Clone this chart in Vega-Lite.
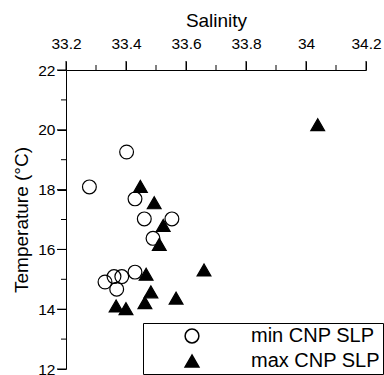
{
  "$schema": "https://vega.github.io/schema/vega-lite/v6.json",
  "autosize": "none",
  "width": 300,
  "height": 299,
  "padding": {"left": 66, "top": 70, "right": 18, "bottom": 6},
  "background": "white",
  "config": {
    "view": {"stroke": null},
    "font": "Liberation Sans",
    "axis": {"grid": false, "domainColor": "#000000", "tickColor": "#000000", "labelColor": "#000000", "titleColor": "#000000", "titleFontWeight": "normal"}
  },
  "resolve": {"axis": {"x": "independent", "y": "independent"}},
  "datasets": {
    "pts": [
      {"salinity": 33.402, "temp": 19.26, "series": "min CNP SLP"},
      {"salinity": 33.278, "temp": 18.09, "series": "min CNP SLP"},
      {"salinity": 33.43, "temp": 17.69, "series": "min CNP SLP"},
      {"salinity": 33.461, "temp": 17.02, "series": "min CNP SLP"},
      {"salinity": 33.553, "temp": 17.02, "series": "min CNP SLP"},
      {"salinity": 33.49, "temp": 16.37, "series": "min CNP SLP"},
      {"salinity": 33.33, "temp": 14.91, "series": "min CNP SLP"},
      {"salinity": 33.36, "temp": 15.09, "series": "min CNP SLP"},
      {"salinity": 33.386, "temp": 15.09, "series": "min CNP SLP"},
      {"salinity": 33.369, "temp": 14.67, "series": "min CNP SLP"},
      {"salinity": 33.43, "temp": 15.24, "series": "min CNP SLP"},
      {"salinity": 34.039, "temp": 20.17, "series": "max CNP SLP"},
      {"salinity": 33.448, "temp": 18.11, "series": "max CNP SLP"},
      {"salinity": 33.494, "temp": 17.56, "series": "max CNP SLP"},
      {"salinity": 33.524, "temp": 16.8, "series": "max CNP SLP"},
      {"salinity": 33.511, "temp": 16.17, "series": "max CNP SLP"},
      {"salinity": 33.467, "temp": 15.17, "series": "max CNP SLP"},
      {"salinity": 33.66, "temp": 15.31, "series": "max CNP SLP"},
      {"salinity": 33.483, "temp": 14.58, "series": "max CNP SLP"},
      {"salinity": 33.567, "temp": 14.37, "series": "max CNP SLP"},
      {"salinity": 33.367, "temp": 14.11, "series": "max CNP SLP"},
      {"salinity": 33.4, "temp": 14.02, "series": "max CNP SLP"},
      {"salinity": 33.463, "temp": 14.22, "series": "max CNP SLP"}
    ],
    "ticks": [
      {"axis": "x", "kind": "major", "v": 33.2}, {"axis": "x", "kind": "major", "v": 33.4}, {"axis": "x", "kind": "major", "v": 33.6},
      {"axis": "x", "kind": "major", "v": 33.8}, {"axis": "x", "kind": "major", "v": 34.0}, {"axis": "x", "kind": "major", "v": 34.2},
      {"axis": "x", "kind": "minor", "v": 33.3}, {"axis": "x", "kind": "minor", "v": 33.5}, {"axis": "x", "kind": "minor", "v": 33.7},
      {"axis": "x", "kind": "minor", "v": 33.9}, {"axis": "x", "kind": "minor", "v": 34.1},
      {"axis": "y", "kind": "major", "v": 12}, {"axis": "y", "kind": "major", "v": 14}, {"axis": "y", "kind": "major", "v": 16},
      {"axis": "y", "kind": "major", "v": 18}, {"axis": "y", "kind": "major", "v": 20}, {"axis": "y", "kind": "major", "v": 22},
      {"axis": "y", "kind": "minor", "v": 13}, {"axis": "y", "kind": "minor", "v": 15}, {"axis": "y", "kind": "minor", "v": 17},
      {"axis": "y", "kind": "minor", "v": 19}, {"axis": "y", "kind": "minor", "v": 21}
    ]
  },
  "layer": [
    {
      "data": {"name": "pts"},
      "mark": {"type": "point", "filled": true, "size": 190, "stroke": "#000000", "strokeWidth": 1.2, "opacity": 1},
      "encoding": {
        "x": {
          "field": "salinity", "type": "quantitative", "title": "Salinity",
          "scale": {"domain": [33.2, 34.2], "nice": false, "zero": false},
          "axis": {
            "orient": "top",
            "values": [33.2, 33.4, 33.6, 33.8, 34.0, 34.2],
            "labelExpr": "format(datum.value,'~g')",
            "tickSize": 9,
            "labelFontSize": 15.5, "titleFontSize": 19, "labelPadding": 10, "titlePadding": 6, "labelFlush": false
          }
        },
        "y": {
          "field": "temp", "type": "quantitative", "title": "Temperature (°C)",
          "scale": {"domain": [12, 22], "nice": false, "zero": false},
          "axis": {
            "values": [12, 14, 16, 18, 20, 22],
            "labelExpr": "format(datum.value,'~g')",
            "tickSize": 9,
            "labelFontSize": 15.5, "titleFontSize": 19, "labelPadding": 2, "titlePadding": 6, "labelFlush": false
          }
        },
        "shape": {
          "field": "series", "type": "nominal", "title": null,
          "scale": {"domain": ["min CNP SLP", "max CNP SLP"], "range": ["circle", "triangle-up"]},
          "legend": {
            "orient": "none", "legendX": 77, "legendY": 253,
            "strokeColor": "#000000", "padding": 3, "symbolOffset": 36, "labelOffset": 49,
            "labelFontSize": 20, "rowPadding": 5, "symbolSize": 190,
            "labelColor": "#000000", "fillColor": "white",
            "encode": {"symbols": {"update": {"stroke": {"value": "#000000"}, "strokeWidth": {"value": 1.2}, "strokeOpacity": {"value": 1}, "opacity": {"value": 1}}}}
          }
        },
        "fill": {
          "field": "series", "type": "nominal", "title": null,
          "scale": {"domain": ["min CNP SLP", "max CNP SLP"], "range": ["transparent", "#000000"]}
        }
      }
    },
    {
      "data": {"name": "ticks"},
      "transform": [{"filter": "datum.axis == 'x' && datum.kind == 'major'"}],
      "mark": {"type": "rule", "color": "#000000", "strokeWidth": 1, "clip": false},
      "encoding": {
        "x": {"field": "v", "type": "quantitative", "axis": null, "scale": {"domain": [33.2, 34.2], "nice": false, "zero": false}},
        "y": {"datum": 22, "type": "quantitative", "axis": null, "scale": {"domain": [12, 22], "nice": false, "zero": false}},
        "y2": {"datum": 22.3}
      }
    },
    {
      "data": {"name": "ticks"},
      "transform": [{"filter": "datum.axis == 'x' && datum.kind == 'minor'"}],
      "mark": {"type": "rule", "color": "#000000", "strokeWidth": 1, "clip": false},
      "encoding": {
        "x": {"field": "v", "type": "quantitative", "axis": null, "scale": {"domain": [33.2, 34.2], "nice": false, "zero": false}},
        "y": {"datum": 22, "type": "quantitative", "axis": null, "scale": {"domain": [12, 22], "nice": false, "zero": false}},
        "y2": {"datum": 22.167}
      }
    },
    {
      "data": {"name": "ticks"},
      "transform": [{"filter": "datum.axis == 'y' && datum.kind == 'major'"}],
      "mark": {"type": "rule", "color": "#000000", "strokeWidth": 1, "clip": false},
      "encoding": {
        "y": {"field": "v", "type": "quantitative", "axis": null, "scale": {"domain": [12, 22], "nice": false, "zero": false}},
        "x": {"datum": 33.2, "type": "quantitative", "axis": null, "scale": {"domain": [33.2, 34.2], "nice": false, "zero": false}},
        "x2": {"datum": 33.17}
      }
    },
    {
      "data": {"name": "ticks"},
      "transform": [{"filter": "datum.axis == 'y' && datum.kind == 'minor'"}],
      "mark": {"type": "rule", "color": "#000000", "strokeWidth": 1, "clip": false},
      "encoding": {
        "y": {"field": "v", "type": "quantitative", "axis": null, "scale": {"domain": [12, 22], "nice": false, "zero": false}},
        "x": {"datum": 33.2, "type": "quantitative", "axis": null, "scale": {"domain": [33.2, 34.2], "nice": false, "zero": false}},
        "x2": {"datum": 33.1833}
      }
    }
  ]
}
